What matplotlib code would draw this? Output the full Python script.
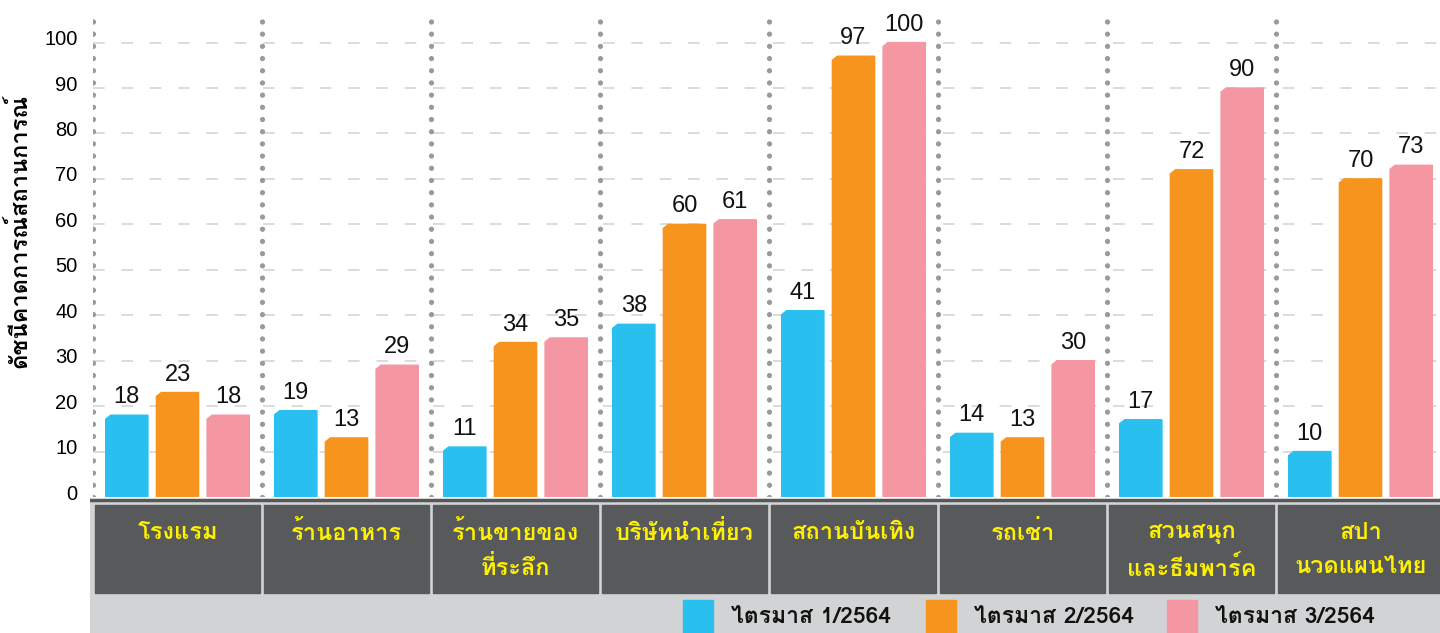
import matplotlib
matplotlib.use("Agg")
import matplotlib.pyplot as plt
import matplotlib.transforms as mtransforms
from matplotlib import font_manager, ft2font
from matplotlib.patches import Rectangle, Polygon
import numpy as np

# Data
categories = ["โรงแรม", "ร้านอาหาร", "ร้านขายของ\nที่ระลึก", "บริษัทนำเที่ยว",
              "สถานบันเทิง", "รถเช่า", "สวนสนุก\nและธีมพาร์ค", "สปา\nนวดแผนไทย"]
q1 = [18, 19, 11, 38, 41, 14, 17, 10]
q2 = [23, 13, 34, 60, 97, 13, 72, 70]
q3 = [18, 29, 35, 61, 100, 30, 90, 73]
series_labels = ["ไตรมาส 1/2564", "ไตรมาส 2/2564", "ไตรมาส 3/2564"]
y_label = "ดัชนีคาดการณ์สถานการณ์"

colors = ["#29c0f0", "#f7941d", "#f497a3"]


def find_thai_font():
    # pick the first installed font that has Thai glyphs
    for f in font_manager.fontManager.ttflist:
        try:
            font = ft2font.FT2Font(f.fname)
            if 0x0E01 in font.get_charmap():
                return f.name
        except Exception:
            continue
    return "DejaVu Sans"


thai = find_thai_font()
plt.rcParams['font.family'] = [thai, 'DejaVu Sans']
NUM_FONT = ['Liberation Sans', 'DejaVu Sans']

W, H = 1440, 633
fig = plt.figure(figsize=(W / 100, H / 100), dpi=100)

# pixel layout
PX = 169.0          # pixels per category
PY = 4.544          # pixels per index point
left_px, zero_px, top_px = 93, 497, 12
ax = fig.add_axes([left_px / W, (H - zero_px) / H, 1 - left_px / W, (zero_px - top_px) / H])
ax.set_xlim(-0.5, -0.5 + (W - left_px) / PX)
ax.set_ylim(0, (zero_px - top_px) / PY)

x = np.arange(len(categories))
width = 0.25
offset = 0.30
cx, cy = 5 / PX, 4 / PY   # chamfer size on the top-left corner
for i, (vals, c) in enumerate(zip([q1, q2, q3], colors)):
    bars = ax.bar(x + (i - 1) * offset, vals, width, color=c, zorder=3)
    for r in bars:
        bx0, by0, bw, bh = r.get_x(), r.get_y(), r.get_width(), r.get_height()
        r.set_visible(False)
        ax.add_patch(Polygon([(bx0, by0), (bx0, by0 + bh - cy), (bx0 + cx, by0 + bh),
                              (bx0 + bw, by0 + bh), (bx0 + bw, by0)],
                             closed=True, color=c, zorder=3))
    ax.bar_label(bars, labels=[str(v) for v in vals], padding=5, fontsize=17,
                 family=NUM_FONT, color='#111111')

# dashed horizontal grid
for yv in range(10, 101, 10):
    ax.axhline(yv, color='#d6d6d6', lw=1.2, ls=(0, (7, 10)), zorder=1)

# dotted vertical separators
for k in range(len(categories)):
    ax.axvline(k - 0.5, color='#9a9a9a', lw=3.8, ls=(0, (0.01, 2.3)),
               dash_capstyle='round', zorder=2)

ax.set_yticks(range(0, 101, 10))
ax.tick_params(axis='y', length=0, pad=11, labelsize=14.5)
ax.set_xticks([])
shift = mtransforms.ScaledTranslation(0, 0.05, fig.dpi_scale_trans)
for lab in ax.get_yticklabels():
    lab.set_family(NUM_FONT)
    lab.set_transform(lab.get_transform() + shift)
for s in ax.spines.values():
    s.set_visible(False)
ax.set_ylabel(y_label, fontsize=17, fontweight='bold')
ax.yaxis.set_label_coords(-0.046, 0.548)

# bottom band with category boxes
band_top = zero_px
bx = fig.add_axes([90 / W, 0, 1 - 90 / W, (H - band_top) / H])
bx.set_xlim(-0.5 - 3 / PX, -0.5 + (W - left_px) / PX)
bx.set_ylim(H - band_top, 0)
bx.axis('off')
bx.add_patch(Rectangle((-0.6, 3), 10, H, color='#d1d3d4', zorder=0))
bx.axhline(2.5, color='#555759', lw=2.5, zorder=2)
gap = 2 / PX
for k, name in enumerate(categories):
    bx.add_patch(Rectangle((k - 0.5 + gap, 8), 1 - 2 * gap, 88, color='#58595b', zorder=1))
    bx.text(k, 24, name, ha='center', va='top', fontsize=17, fontweight='bold',
            color='#fff200', linespacing=1.6, zorder=3)

# legend
leg_x = [683, 926, 1167]
for lx, lab, c in zip(leg_x, series_labels, colors):
    fig.patches.append(Rectangle((lx / W, 0), 30 / W, 33 / H, color=c,
                                 transform=fig.transFigure, figure=fig))
    fig.text((lx + 48) / W, 16 / H, lab, ha='left', va='center', fontsize=16.5,
             fontweight='bold', color='#111111')

fig.savefig('out.png', dpi=100)
